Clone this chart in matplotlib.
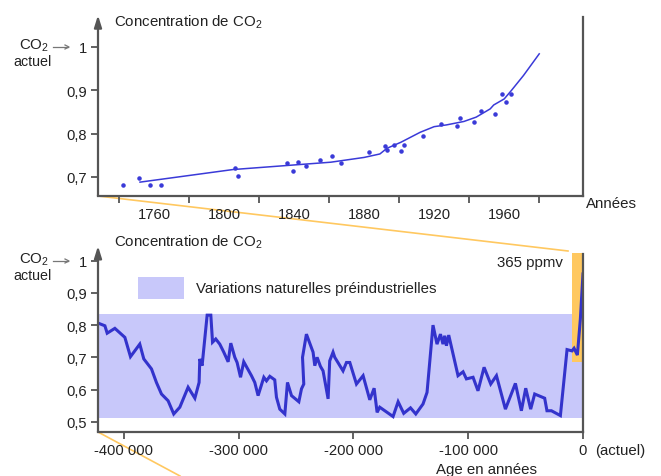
import matplotlib
matplotlib.use("Agg")
import matplotlib.pyplot as plt
from matplotlib.patches import Rectangle
from matplotlib.lines import Line2D

plt.rcParams['font.family'] = ['Liberation Sans', 'DejaVu Sans']
plt.rcParams['mathtext.fontset'] = 'custom'
plt.rcParams['mathtext.rm'] = 'Liberation Sans'

# ---------------- data ----------------
# Top panel: recent CO2 (relative to current)
fit_years = [1752, 1805, 1861, 1880, 1889, 1893, 1901, 1912, 1920, 1927, 1937, 1944,
             1952, 1954, 1960, 1964, 1971, 1980]
fit_vals = [0.688, 0.717, 0.734, 0.745, 0.753, 0.766, 0.780, 0.803, 0.816, 0.820, 0.828,
            0.838, 0.857, 0.866, 0.880, 0.899, 0.934, 0.984]
dot_years = [1742.5, 1751.6, 1757.7, 1764, 1806, 1808, 1836, 1839.6, 1842, 1847, 1855,
             1861.5, 1867, 1883, 1892, 1893, 1897, 1901, 1903, 1913.5, 1924, 1933, 1935,
             1942.5, 1947, 1954.5, 1959, 1961, 1964]
dot_vals = [0.681, 0.697, 0.681, 0.681, 0.720, 0.701, 0.731, 0.714, 0.735, 0.726, 0.739,
            0.749, 0.732, 0.757, 0.772, 0.763, 0.774, 0.759, 0.774, 0.794, 0.822, 0.817,
            0.836, 0.826, 0.853, 0.845, 0.891, 0.872, 0.892]
top_tick_marks = [1740, 1780, 1820, 1860, 1900, 1940, 1980]
top_tick_labels = ['1760', '1800', '1840', '1880', '1920', '1960']
top_label_years = [1760, 1800, 1840, 1880, 1920, 1960]
top_yticks = [0.7, 0.8, 0.9, 1.0]
top_ylabels = ['0,7', '0,8', '0,9', '1']

# Bottom panel: ice-core CO2 over 420 000 years
age = [-421600, -416600, -414600, -407900, -399200, -394300, -386200, -382700, -376000,
       -371700, -367300, -361500, -356600, -351300, -344100, -338200, -334500, -333900,
       -331900, -327500, -324300, -322800, -320000, -316500, -313000, -309200, -306900,
       -303400, -301400, -298400, -295600, -288900, -286000, -283100, -278100, -275800,
       -272900, -268600, -267100, -264200, -259800, -257500, -254000, -247600, -245300,
       -243300, -244400, -241000, -235200, -233700, -231700, -228800, -226500, -222100,
       -220700, -217800, -216300, -209100, -206100, -203200, -197400, -191600, -185800,
       -182000, -179400, -177100, -165500, -161100, -156200, -150300, -145700, -139400,
       -135900, -130700, -127200, -124200, -122000, -120500, -119000, -117000, -108900,
       -104500, -101600, -95800, -91500, -86200, -80400, -75400, -67600, -58900, -53700,
       -49900, -45600, -42100, -33400, -31400, -27500, -19700, -13900, -9600, -7800,
       -4900, -2300, 0]
co2 = [0.805, 0.798, 0.775, 0.790, 0.762, 0.702, 0.741, 0.695, 0.664, 0.622, 0.586,
       0.565, 0.524, 0.545, 0.607, 0.573, 0.622, 0.695, 0.674, 0.831, 0.831, 0.747,
       0.757, 0.741, 0.716, 0.686, 0.744, 0.700, 0.684, 0.638, 0.686, 0.643, 0.622,
       0.581, 0.638, 0.627, 0.641, 0.630, 0.576, 0.539, 0.524, 0.622, 0.581, 0.562,
       0.602, 0.617, 0.700, 0.772, 0.716, 0.674, 0.700, 0.672, 0.658, 0.571, 0.689,
       0.716, 0.700, 0.658, 0.684, 0.684, 0.617, 0.643, 0.568, 0.604, 0.529, 0.545,
       0.516, 0.562, 0.526, 0.543, 0.524, 0.555, 0.591, 0.800, 0.741, 0.772, 0.741,
       0.767, 0.736, 0.769, 0.643, 0.655, 0.633, 0.638, 0.596, 0.669, 0.617, 0.643,
       0.539, 0.619, 0.534, 0.604, 0.539, 0.586, 0.573, 0.534, 0.534, 0.519, 0.724,
       0.720, 0.728, 0.707, 0.819, 0.959]
band_range = [0.511, 0.834]
recent_box_x = [-10000, 0]
recent_box_y = [0.684, 1.024]
bot_xticks = [-400000, -300000, -200000, -100000, 0]
bot_xlabels = ['-400 000', '-300 000', '-200 000', '-100 000', '0']
bot_yticks = [0.5, 0.6, 0.7, 0.8, 0.9, 1.0]
bot_ylabels = ['0,5', '0,6', '0,7', '0,8', '0,9', '1']

# ---------------- figure ----------------
W, H = 661, 477
fig = plt.figure(figsize=(W / 100, H / 100), dpi=100)
axcol = '#555555'
txtcol = '#222222'
linecol = '#3333CC'
bandcol = '#C8C8FA'
orange = '#FFC860'
FS = 10.8
TFS = 10.6


def fx(px):
    return px / W


def fy(py):
    return 1 - py / H


def style_axes(ax):
    ax.spines['top'].set_visible(False)
    ax.spines['left'].set_visible(False)
    for s in ['bottom', 'right']:
        ax.spines[s].set_color(axcol)
        ax.spines[s].set_linewidth(1.6)
    ax.tick_params(axis='both', which='major', direction='out', length=5, width=1.3,
                   color=axcol, labelsize=TFS, labelcolor=txtcol, pad=3)
    ax.tick_params(axis='y', right=False)


# ---- top axes ----
ax1 = fig.add_axes([fx(98), fy(197), fx(583) - fx(98), fy(18) - fy(197)])
style_axes(ax1)
ax1.set_xlim(1728, 2005)
ax1.set_ylim(0.656, 1.069)
ax1.plot(fit_years, fit_vals, color='#3A3AD8', lw=1.1)
ax1.scatter(dot_years, dot_vals, s=5, color='#3A3AD8', zorder=3)
ax1.set_xticks(top_tick_marks)
ax1.set_xticklabels([''] * len(top_tick_marks))
ax1.set_xticks(top_label_years, minor=True)
ax1.set_xticklabels(top_tick_labels, minor=True)
ax1.tick_params(axis='x', which='minor', length=0, labelsize=TFS, labelcolor=txtcol, pad=8)
ax1.set_yticks(top_yticks)
ax1.set_yticklabels(top_ylabels)
ax1.annotate('', xy=(0, 1.01), xytext=(0, 0), xycoords='axes fraction',
             arrowprops=dict(arrowstyle='-|>,head_length=0.7,head_width=0.22',
                             color=axcol, lw=1.6, shrinkA=0, shrinkB=0))

# ---- bottom axes ----
ax2 = fig.add_axes([fx(98), fy(433), fx(583) - fx(98), fy(255) - fy(433)])
style_axes(ax2)
ax2.set_xlim(-422600, 0)
ax2.set_ylim(0.468, 1.021)
ax2.axhspan(band_range[0], band_range[1], color=bandcol, lw=0, zorder=0)
ax2.add_patch(Rectangle((recent_box_x[0], recent_box_y[0]),
                        recent_box_x[1] - recent_box_x[0],
                        recent_box_y[1] - recent_box_y[0],
                        facecolor=orange, edgecolor='none', zorder=1, clip_on=False))
ax2.plot(age, co2, color=linecol, lw=2.2, zorder=2, solid_joinstyle='miter')
ax2.set_xticks(bot_xticks)
ax2.set_xticklabels(bot_xlabels)
ax2.set_yticks(bot_yticks)
ax2.set_yticklabels(bot_ylabels)
ax2.annotate('', xy=(0, 1.045), xytext=(0, 0), xycoords='axes fraction',
             arrowprops=dict(arrowstyle='-|>,head_length=0.7,head_width=0.22',
                             color=axcol, lw=1.6, shrinkA=0, shrinkB=0))

# legend patch
fig.patches.append(Rectangle((fx(138), fy(300)), fx(184) - fx(138), fy(278) - fy(300),
                             transform=fig.transFigure, facecolor=bandcol, edgecolor='none'))
fig.text(fx(196), fy(289), 'Variations naturelles préindustrielles', fontsize=FS,
         va='center', ha='left', color=txtcol)

# ---- texts ----
for ty in [26, 246]:
    fig.text(fx(114), fy(ty), 'Concentration de CO$_\\mathregular{2}$', fontsize=FS,
             ha='left', va='baseline', color=txtcol)

for ty in [48, 262]:
    fig.text(fx(19), fy(ty - 2), 'CO$_\\mathregular{2}$', fontsize=FS, ha='left',
             va='center', color=txtcol)
    fig.text(fx(13), fy(ty + 14), 'actuel', fontsize=FS - 0.5, ha='left', va='center',
             color=txtcol)
    fig.add_artist(Line2D([fx(53), fx(68)], [fy(ty), fy(ty)], color='#777777', lw=0.9,
                          transform=fig.transFigure))
    fig.add_artist(Line2D([fx(65), fx(69), fx(65)], [fy(ty - 2), fy(ty), fy(ty + 2)],
                          color='#777777', lw=0.9, transform=fig.transFigure))

fig.text(fx(586), fy(204), 'Années', fontsize=FS, ha='left', va='center', color=txtcol)
fig.text(fx(563), fy(263), '365 ppmv', fontsize=FS, ha='right', va='center', color=txtcol)
fig.text(fx(595), fy(451), '(actuel)', fontsize=FS, ha='left', va='center', color=txtcol)
fig.text(fx(487), fy(470), 'Age en années', fontsize=FS, ha='center', va='center',
         color=txtcol)

# ---- orange connector lines ----
fig.add_artist(Line2D([fx(98), fx(568)], [fy(197), fy(252)], color=orange, lw=1.2,
                      transform=fig.transFigure, zorder=0))
fig.add_artist(Line2D([fx(98), fx(180)], [fy(433), fy(477)], color=orange, lw=1.2,
                      transform=fig.transFigure, zorder=0))

fig.savefig('out.png', dpi=100)
